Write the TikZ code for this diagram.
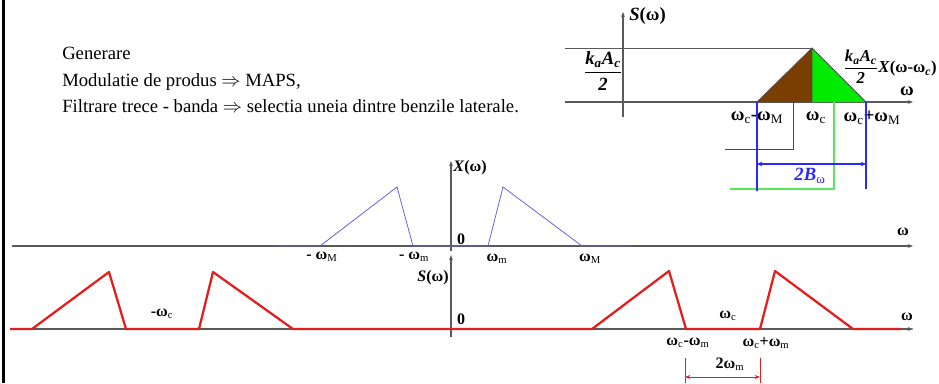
\documentclass[tikz,border=0pt]{standalone}
\usepackage{amsmath}
\usepackage{fontspec}
\setmainfont{Liberation Serif}
\usetikzlibrary{arrows.meta}
\definecolor{sigred}{RGB}{228,30,30}
\definecolor{specblue}{RGB}{100,100,225}
\definecolor{axgray}{RGB}{90,90,90}
\definecolor{lsbbrown}{RGB}{122,62,0}
\definecolor{usbgreen}{RGB}{0,235,0}
\definecolor{dimblue}{RGB}{40,40,255}
\definecolor{lgreen}{RGB}{90,230,90}
\newcommand\sbx[1]{\textsubscript{\mdseries #1}}
\newcommand\kfrac{$\dfrac{\text{\bfseries\itshape k\textsubscript{a}A\textsubscript{c}}}{\text{\bfseries\itshape 2}}$}
\begin{document}
\begin{tikzpicture}[x=0.75pt,y=-0.75pt,
  axis/.style={draw=axgray,line width=0.8pt,-{Stealth[length=4pt,width=3pt]}},
  zeroline/.style={draw=gray!60,line width=0.8pt},
  sig/.style={draw=sigred,line width=1.7pt,line join=round},
  spec/.style={draw=specblue,line width=0.6pt},
  lbl/.style={inner sep=0pt,font=\bfseries\fontsize{12}{13}\selectfont},
  ilbl/.style={inner sep=0pt,font=\bfseries\fontsize{14}{16}\selectfont},
  txt/.style={inner sep=0pt,anchor=base west,font=\fontsize{14}{16}\selectfont}]
\useasboundingbox (0,0) rectangle (939,383);
% left border
\draw[line width=2.2pt] (3.5,0) -- (3.5,383);
% text
\node[txt] (t1) at (62,59) {Generare};
\node[txt] (t2) at (62,86) {Modulatie de produs $\Rightarrow$ MAPS,};
\node[txt] (t3) at (62,112) {Filtrare trece - banda $\Rightarrow$ selectia uneia dintre benzile laterale.};
% ---------- inset ----------
\coordinate (iA0) at (623,117); \coordinate (iA1) at (623,12);
\draw[axis] (iA0) -- (iA1);
\node[ilbl,anchor=west] (iS) at (629,16) {\textit{S}(ω)};
\coordinate (gL) at (565,48); \coordinate (pk) at (812,48);
\draw[draw=axgray,line width=0.6pt] (gL) -- (pk);
\coordinate (iX0) at (565,102); \coordinate (iX1) at (913,102);
\draw[axis] (iX0) -- (iX1);
\node[ilbl] (iw) at (907,91) {ω};
\node[ilbl] (ifr) at (603,71) {\kfrac};
\coordinate (bl) at (757,102); \coordinate (bm) at (812,102); \coordinate (br) at (866,102);
\fill[lsbbrown] (bl) -- (pk) -- (bm) -- cycle;
\fill[usbgreen] (pk) -- (br) -- (bm) -- cycle;
\draw[line width=0.6pt,draw=black!70] (bl) -- (pk) -- (br) (pk) -- (bm);
\node[ilbl] (l1) at (757,118) {ω\sbx{c}-ω\sbx{M}};
\node[ilbl] (l2) at (816,118) {ω\sbx{c}};
\node[ilbl] (l3) at (872,118) {ω\sbx{c}+ω\sbx{M}};
\node[inner sep=0pt,font=\bfseries\fontsize{12.5}{14}\selectfont] (ifr2) at (890,67) {\kfrac\textbf{\textit{X}}(ω-ω\textsubscript{\itshape c})};
% brown, green, blue guides
\coordinate (bro1) at (793,102); \coordinate (bro2) at (793,149); \coordinate (bro3) at (725,149);
\draw[lsbbrown,line width=0.6pt] (bro1) -- (bro2) -- (bro3);
\coordinate (gr1) at (834,102); \coordinate (gr2) at (834,189); \coordinate (gr3) at (730,189);
\draw[lgreen,line width=0.8pt] (gr1) -- (gr2) -- (gr3);
\coordinate (bv1) at (757,191); \coordinate (bv2) at (866,189);
\draw[dimblue,line width=0.8pt] (bl) -- (bv1) (br) -- (bv2);
\coordinate (da1) at (757,164); \coordinate (da2) at (866,164);
\draw[dimblue,line width=0.9pt,{Stealth[length=4pt,width=3.5pt]}-{Stealth[length=4pt,width=3.5pt]}] (da1) -- (da2);
\node[ilbl,text=dimblue] (bw) at (810,176) {\textit{2B}\sbx{ω}};
% ---------- X(omega) ----------
\coordinate (xa0) at (12,246); \coordinate (xa1) at (913,246);
\draw[axis] (xa0) -- (xa1);
\coordinate (xv0) at (451,251); \coordinate (xv1) at (451,161);
\draw[axis] (xv0) -- (xv1);
\node[lbl,anchor=west] (xl) at (453,168) {\textit{X}(ω)};
\node[lbl] (x0) at (461,239) {0};
\node[lbl] (xw) at (903,232) {ω};
\draw[spec] (278,246) -- (320,246) -- (397,187) -- (413,246) -- (488,246) -- (503,187) -- (582,246) -- (630,246);
\node[lbl] (m1) at (322,257) {- ω\sbx{M}};
\node[lbl] (m2) at (414,257) {- ω\sbx{m}};
\node[lbl] (m3) at (497,259) {ω\sbx{m}};
\node[lbl] (m4) at (590,259) {ω\sbx{M}};
% ---------- S(omega) ----------
\coordinate (sa0) at (10,329); \coordinate (sa1) at (913,329);
\draw[zeroline] (sa0) -- (sa1);
\draw[axis] (sa0) -- (sa1);
\coordinate (sv0) at (451,337); \coordinate (sv1) at (451,255);
\draw[axis] (sv0) -- (sv1);
\node[lbl] (sl) at (433,278) {\textit{S}(ω)};
\node[lbl] (s0) at (461,319) {0};
\node[lbl] (sw) at (907,317) {ω};
\draw[sig] (10,329) -- (32,329) -- (109,272) -- (126,329) -- (199,329) -- (213,272) -- (293,329) -- (592,329) -- (669,271) -- (686,329) -- (760,329) -- (775,271) -- (853,329) -- (902,329);
\node[lbl] (c1) at (162,314) {-ω\sbx{c}};
\node[lbl] (c2) at (728,316) {ω\sbx{c}};
\node[lbl] (c3) at (688,343) {ω\sbx{c}-ω\sbx{m}};
\node[lbl] (c4) at (766,343) {ω\sbx{c}+ω\sbx{m}};
\coordinate (rv1) at (685,358); \coordinate (rv1b) at (685,383);
\coordinate (rv2) at (760,358); \coordinate (rv2b) at (760,383);
\draw[sigred,line width=0.5pt] (rv1) -- (rv1b) (rv2) -- (rv2b);
\coordinate (ra1) at (685,377); \coordinate (ra2) at (760,377);
\draw[sigred,line width=0.6pt,{Stealth[length=4pt,width=3pt]}-{Stealth[length=4pt,width=3pt]}] (ra1) -- (ra2);
\node[lbl] (tw) at (730,364) {2ω\sbx{m}};
\end{tikzpicture}
\end{document}
